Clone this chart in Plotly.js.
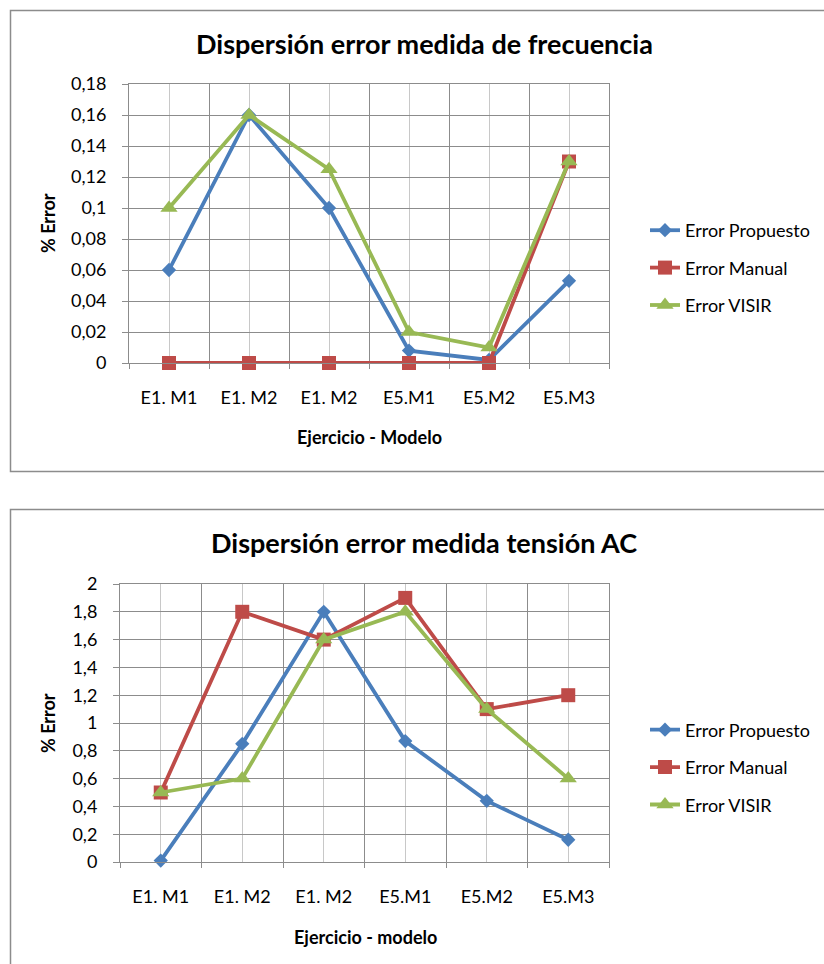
<!DOCTYPE html>
<html><head><meta charset="utf-8">
<script src="https://cdn.plot.ly/plotly-3.0.1.min.js"></script>
<style>body{margin:0;background:#fff}</style>
</head><body><div id="chart" style="width:824px;height:964px"></div>
<script>
// ---- data ----
const categories = ['E1. M1', 'E1. M2', 'E1. M2', 'E5.M1', 'E5.M2', 'E5.M3'];
const seriesNames = ['Error Propuesto', 'Error Manual', 'Error VISIR'];
const freqPropuesto = [0.06, 0.16, 0.1, 0.008, 0.002, 0.053];
const freqManual = [0, 0, 0, 0, 0, 0.13];
const freqVisir = [0.1, 0.16, 0.125, 0.02, 0.01, 0.13];
const acPropuesto = [0.01, 0.85, 1.8, 0.87, 0.44, 0.16];
const acManual = [0.5, 1.8, 1.6, 1.9, 1.1, 1.2];
const acVisir = [0.5, 0.6, 1.6, 1.8, 1.1, 0.6];
const freqTickVals = [0, 0.02, 0.04, 0.06, 0.08, 0.1, 0.12, 0.14, 0.16, 0.18];
const freqTickText = ['0', '0,02', '0,04', '0,06', '0,08', '0,1', '0,12', '0,14', '0,16', '0,18'];
const acTickVals = [0, 0.2, 0.4, 0.6, 0.8, 1, 1.2, 1.4, 1.6, 1.8, 2];
const acTickText = ['0', '0,2', '0,4', '0,6', '0,8', '1', '1,2', '1,4', '1,6', '1,8', '2'];
const titleFreq = 'Dispersión error medida de frecuencia';
const titleAC = 'Dispersión error medida tensión AC';
const xTitleFreq = 'Ejercicio - Modelo';
const xTitleAC = 'Ejercicio - modelo';
const yTitle = '% Error';

// ---- styling ----
const W = 824, H = 964;
const FONT = 'Lato, "Open Sans", sans-serif';
const colors = ['#4A7EBB', '#BE4B48', '#98B954'];
const symbols = ['diamond', 'square', 'triangle-up'];
const msizes = [11, 14, 15];
const px = x => x / W;
const py = y => 1 - y / H;
const xIdx = categories.map((c, i) => i);

function mk(vals, s, xa, ya, leg) {
  return {
    type: 'scatter', mode: 'lines+markers', x: xIdx, y: vals,
    name: seriesNames[s], xaxis: xa, yaxis: ya, legend: leg,
    legendgroup: leg + s,
    line: {color: colors[s], width: 3.8},
    marker: {color: colors[s], symbol: symbols[s], size: msizes[s]},
    cliponaxis: false, hoverinfo: 'skip'
  };
}
const data = [
  mk(freqPropuesto, 0, 'x', 'y', 'legend'),
  mk(freqManual, 1, 'x', 'y', 'legend'),
  mk(freqVisir, 2, 'x', 'y', 'legend'),
  mk(acPropuesto, 0, 'x2', 'y2', 'legend2'),
  mk(acManual, 1, 'x2', 'y2', 'legend2'),
  mk(acVisir, 2, 'x2', 'y2', 'legend2')
];

function xAxis(dom, anchor) {
  return {
    domain: dom, anchor: anchor, range: [-0.5, 5.5], fixedrange: true,
    tickvals: xIdx, ticktext: categories, ticks: '',
    showgrid: true, gridcolor: '#C8C8C8', gridwidth: 1,
    minor: {tick0: -0.5, dtick: 1, showgrid: true, gridcolor: '#8C8C8C', gridwidth: 1,
            ticks: 'outside', ticklen: 5, tickcolor: '#8C8C8C'},
    showline: true, linecolor: '#8C8C8C', linewidth: 1, mirror: true,
    zeroline: false, ticklabelstandoff: 18,
    tickfont: {family: FONT, size: 18, color: '#000'}
  };
}
function yAxis(dom, anchor, vals, text) {
  return {
    domain: dom, anchor: anchor, range: [0, vals[vals.length - 1]], fixedrange: true,
    tickvals: vals, ticktext: text, ticks: 'outside', ticklen: 6, tickcolor: '#8C8C8C',
    showgrid: true, gridcolor: '#8C8C8C', gridwidth: 1,
    showline: true, linecolor: '#8C8C8C', linewidth: 1, mirror: true,
    zeroline: false, ticklabelstandoff: 12,
    tickfont: {family: FONT, size: 18, color: '#000'}
  };
}

const legendCommon = {
  xanchor: 'left', yanchor: 'top', bgcolor: 'rgba(0,0,0,0)',
  font: {family: FONT, size: 18, color: '#000'},
  traceorder: 'grouped', tracegroupgap: 11, itemclick: false, itemdoubleclick: false
};

function ann(text, x, y, size, angle) {
  return {text: '<b>' + text + '</b>', xref: 'paper', yref: 'paper', x: px(x), y: py(y),
          xanchor: 'center', yanchor: 'middle', textangle: angle || 0,
          showarrow: false, font: {family: FONT, size: size, color: '#000'}};
}

const layout = {
  width: W, height: H, margin: {l: 0, r: 0, t: 0, b: 0},
  paper_bgcolor: '#fff', plot_bgcolor: '#fff', showlegend: true,
  xaxis: xAxis([px(129), px(609)], 'y'),
  yaxis: yAxis([py(363), py(84)], 'x', freqTickVals, freqTickText),
  xaxis2: xAxis([px(120), px(609)], 'y2'),
  yaxis2: yAxis([py(862), py(584)], 'x2', acTickVals, acTickText),
  legend: Object.assign({x: px(645), y: py(212)}, legendCommon),
  legend2: Object.assign({x: px(645), y: py(711.5)}, legendCommon),
  shapes: [
    {type: 'rect', xref: 'paper', yref: 'paper', x0: px(10.5), x1: px(830), y0: py(471.5), y1: py(10.5),
     line: {color: '#8C8C8C', width: 1.5}, layer: 'below'},
    {type: 'rect', xref: 'paper', yref: 'paper', x0: px(10.5), x1: px(830), y0: py(975), y1: py(509.5),
     line: {color: '#8C8C8C', width: 1.5}, layer: 'below'}
  ],
  annotations: [
    ann(titleFreq, 424, 44, 27),
    ann(titleAC, 424, 542, 27),
    ann(xTitleFreq, 369, 437, 18),
    ann(xTitleAC, 365, 937, 18),
    ann(yTitle, 48, 223, 18, -90),
    ann(yTitle, 48, 723, 18, -90)
  ]
};

Plotly.newPlot('chart', data, layout, {staticPlot: true, displayModeBar: false});
</script>
</body></html>
